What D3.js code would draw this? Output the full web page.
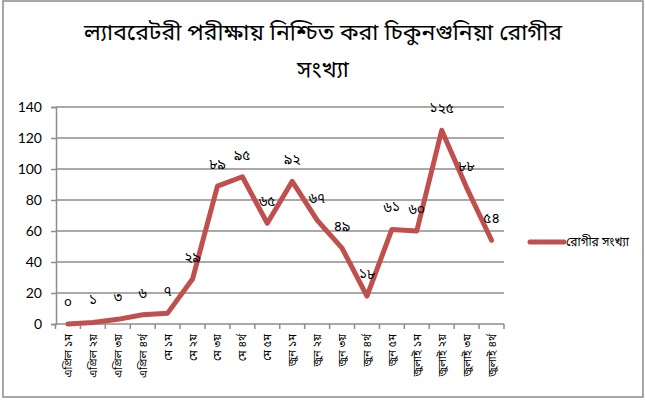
<!DOCTYPE html>
<html>
<head>
<meta charset="utf-8">
<script src="https://cdn.jsdelivr.net/npm/d3@7"></script>
<style>
  html, body { margin: 0; padding: 0; background: #fff; }
  svg { display: block; }
</style>
</head>
<body>
<svg id="chart" width="645" height="400"></svg>
<script>
const title1 = "ল্যাবরেটরী পরীক্ষায় নিশ্চিত করা চিকুনগুনিয়া রোগীর";
const title2 = "সংখ্যা";
const seriesName = "রোগীর সংখ্যা";
const categories = [
  "এপ্রিল ১ম", "এপ্রিল ২য়", "এপ্রিল ৩য়", "এপ্রিল ৪র্থ",
  "মে ১ম", "মে ২য়", "মে ৩য়", "মে ৪র্থ", "মে ৫ম",
  "জুন ১ম", "জুন ২য়", "জুন ৩য়", "জুন ৪র্থ", "জুন ৫ম",
  "জুলাই ১ম", "জুলাই ২য়", "জুলাই ৩য়", "জুলাই ৪র্থ"
];
const values = [0, 1, 3, 6, 7, 29, 89, 95, 65, 92, 67, 49, 18, 61, 60, 125, 88, 54];
const valueLabels = ["০", "১", "৩", "৬", "৭", "২৯", "৮৯", "৯৫", "৬৫", "৯২", "৬৭", "৪৯", "১৮", "৬১", "৬০", "১২৫", "৮৮", "৫৪"];
const yTicks = [0, 20, 40, 60, 80, 100, 120, 140];

const svg = d3.select("#chart");
const bengaliFont = "'Noto Sans Bengali', 'Noto Sans', 'DejaVu Sans', sans-serif";

// outer border
svg.append("rect").attr("x", 3).attr("y", 1).attr("width", 640).attr("height", 396)
  .attr("fill", "none").attr("stroke", "#8a8a8a").attr("stroke-width", 1.5);

// title
svg.append("text").attr("x", 323).attr("y", 40).attr("text-anchor", "middle")
  .attr("font-family", bengaliFont).attr("font-size", 23).attr("fill", "#000").text(title1);
svg.append("text").attr("x", 323).attr("y", 77).attr("text-anchor", "middle")
  .attr("font-family", bengaliFont).attr("font-size", 23).attr("fill", "#000").text(title2);

const x = d3.scaleBand().domain(categories).range([55.5, 504]);
const y = d3.scaleLinear().domain([0, 140]).range([324, 107]);

// gridlines
svg.append("g").selectAll("line").data(yTicks.filter(d => d > 0)).join("line")
  .attr("x1", 56).attr("x2", 504).attr("y1", d => y(d)).attr("y2", d => y(d))
  .attr("stroke", "#8c8c8c").attr("stroke-width", 1.5);

// y axis
const yAxis = svg.append("g").attr("transform", "translate(56,0)")
  .call(d3.axisLeft(y).tickValues(yTicks).tickSize(5).tickPadding(9));
yAxis.select(".domain").attr("stroke", "#8c8c8c").attr("stroke-width", 1.5);
yAxis.selectAll(".tick line").attr("stroke", "#8c8c8c").attr("stroke-width", 1.5);
yAxis.selectAll("text").attr("font-family", "Lato, 'Open Sans', sans-serif").attr("font-size", 14).attr("fill", "#000");

// x axis
const xAxis = svg.append("g").attr("transform", "translate(0,324)");
xAxis.append("line").attr("x1", 55.5).attr("x2", 504).attr("y1", 0).attr("y2", 0)
  .attr("stroke", "#8c8c8c").attr("stroke-width", 1.5);
const bounds = categories.map(c => x(c)).concat([x(categories[categories.length - 1]) + x.bandwidth()]);
xAxis.selectAll("line.tk").data(bounds).join("line").attr("class", "tk")
  .attr("x1", d => d).attr("x2", d => d).attr("y1", 0).attr("y2", 5)
  .attr("stroke", "#8c8c8c").attr("stroke-width", 1.5);
xAxis.selectAll("text").data(categories).join("text")
  .attr("transform", d => `translate(${x(d) + x.bandwidth() / 2 + 4},10) rotate(-90)`)
  .attr("text-anchor", "end")
  .attr("font-family", bengaliFont).attr("font-size", 11).attr("fill", "#000")
  .text(d => d);

// line
const line = d3.line().x((d, i) => x(categories[i]) + x.bandwidth() / 2).y(d => y(d));
svg.append("path").datum(values).attr("d", line)
  .attr("fill", "none").attr("stroke", "#c0504d").attr("stroke-width", 5)
  .attr("stroke-linejoin", "round").attr("stroke-linecap", "round");

// value labels
svg.append("g").selectAll("text").data(values).join("text")
  .attr("x", (d, i) => x(categories[i]) + x.bandwidth() / 2)
  .attr("y", d => y(d) - 17)
  .attr("text-anchor", "middle")
  .attr("font-family", bengaliFont).attr("font-size", 14).attr("fill", "#000")
  .text((d, i) => valueLabels[i]);

// legend
svg.append("line").attr("x1", 530).attr("x2", 564).attr("y1", 242).attr("y2", 242)
  .attr("stroke", "#c0504d").attr("stroke-width", 5).attr("stroke-linecap", "round");
svg.append("text").attr("x", 566).attr("y", 246)
  .attr("font-family", bengaliFont).attr("font-size", 12).attr("fill", "#000").text(seriesName);
</script>
</body>
</html>
